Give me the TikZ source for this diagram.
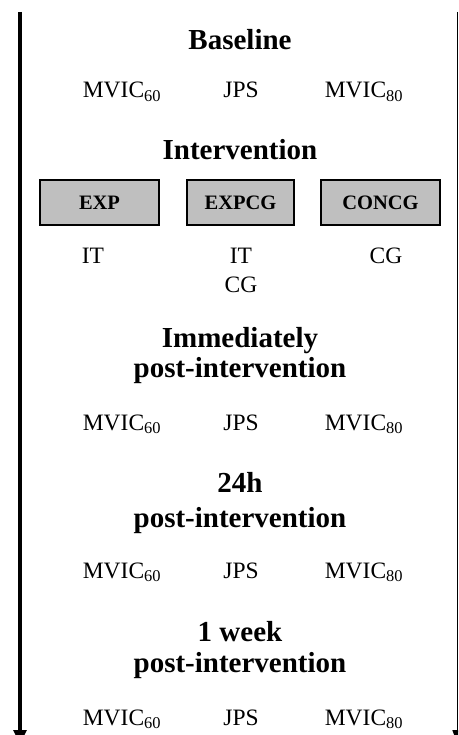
\documentclass[tikz,border=0pt]{standalone}
\usepackage{fontspec}
\setmainfont{Liberation Serif}
\usetikzlibrary{arrows.meta}
\tikzset{
  head/.style={anchor=base,font=\fontsize{29}{34}\selectfont\bfseries,inner sep=0pt},
  item/.style={anchor=base,font=\fontsize{23.5}{28}\selectfont,inner sep=0pt},
  group/.style={draw,line width=1.8pt,fill=black!25,minimum height=45pt,
    font=\fontsize{20.5}{24}\selectfont\bfseries,inner sep=0pt},
}
\newcommand{\mvic}[1]{MVIC\textsubscript{#1}}
\begin{document}
\begin{tikzpicture}[x=1pt,y=-1pt]
    \useasboundingbox (0,0) rectangle (458,735);
    \clip (0,0) rectangle (458,735);
    % time axes
    \coordinate (lt) at (20,12);
    \coordinate (lb) at (20,744);
    \coordinate (rt) at (457.5,12);
    \coordinate (rb) at (457.5,744);
    \draw[line width=3.2pt,-{Triangle[width=13pt,length=14pt]}] (lt) -- (lb);
    \draw[line width=1.6pt,-{Triangle[width=10pt,length=14pt]}] (rt) -- (rb);
    % baseline
    \node[head] (base) at (240,50) {Baseline};
    \node[item] (b1) at (122,98) {\mvic{60}};
    \node[item] (b2) at (241,98) {JPS};
    \node[item] (b3) at (364,98) {\mvic{80}};
    % intervention
    \node[head] (int) at (240,160) {Intervention};
    \node[group,minimum width=119pt] (exp) at (99.5,202.5) {EXP};
    \node[group,minimum width=107pt] (expcg) at (240.5,202.5) {EXPCG};
    \node[group,minimum width=119pt] (concg) at (380.5,202.5) {CONCG};
    \node[item] (i1) at (93,263) {IT};
    \node[item] (i2) at (241,263) {IT};
    \node[item] (i3) at (241,292) {CG};
    \node[item] (i4) at (386,263) {CG};
    % immediately post
    \node[head] (imm) at (240,347) {Immediately};
    \node[head] (imm2) at (240,377) {post-intervention};
    \node[item] (p1) at (122,430) {\mvic{60}};
    \node[item] (p2) at (241,430) {JPS};
    \node[item] (p3) at (364,430) {\mvic{80}};
    % 24h post
    \node[head] (day) at (240,492) {24h};
    \node[head] (day2) at (240,527) {post-intervention};
    \node[item] (d1) at (122,578) {\mvic{60}};
    \node[item] (d2) at (241,578) {JPS};
    \node[item] (d3) at (364,578) {\mvic{80}};
    % 1 week post
    \node[head] (wk) at (240,641) {1 week};
    \node[head] (wk2) at (240,672) {post-intervention};
    \node[item] (w1) at (122,725) {\mvic{60}};
    \node[item] (w2) at (241,725) {JPS};
    \node[item] (w3) at (364,725) {\mvic{80}};
\end{tikzpicture}
\end{document}
